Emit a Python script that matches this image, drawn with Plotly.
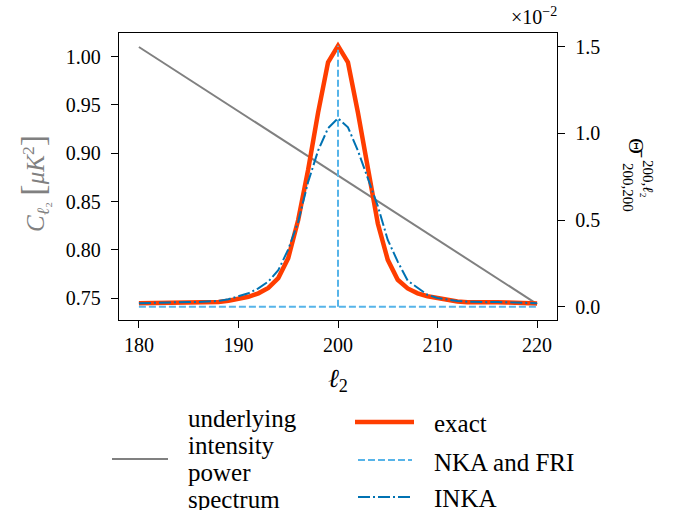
import plotly.graph_objects as go

# ---------------- data ----------------
ell = list(range(180, 221))
# exact Theta-bar values, in units of 1e-2
exact = [0.019, 0.020, 0.022, 0.024, 0.025, 0.025, 0.024, 0.024, 0.027, 0.034,
         0.044, 0.057, 0.077, 0.108, 0.165, 0.280, 0.500, 0.790, 1.120, 1.410,
         1.505, 1.410, 1.120, 0.785, 0.480, 0.270, 0.155, 0.105, 0.077, 0.060,
         0.048, 0.038, 0.030, 0.025, 0.023, 0.024, 0.025, 0.024, 0.022, 0.020,
         0.018]
inka = [0.020, 0.022, 0.024, 0.026, 0.027, 0.027, 0.027, 0.028, 0.033, 0.043,
        0.058, 0.077, 0.106, 0.145, 0.210, 0.330, 0.490, 0.720, 0.900, 1.030,
        1.087, 1.035, 0.900, 0.740, 0.580, 0.385, 0.260, 0.150, 0.108, 0.068,
        0.050, 0.040, 0.033, 0.028, 0.026, 0.026, 0.027, 0.026, 0.024, 0.022,
        0.020]
# NKA and FRI: a Kronecker delta at ell = 200 (baseline + spike segments)
nka_ell = [180, 220, None, 200, 200]
nka = [0.0, 0.0, None, 0.0, 1.505]
# underlying intensity power spectrum (straight line)
ps_ell = [180, 220]
ps_C = [1.010, 0.744]

x_ticks = [180, 190, 200, 210, 220]
y_ticks = [0.75, 0.80, 0.85, 0.90, 0.95, 1.00]
y_ticklabels = ["0.75", "0.80", "0.85", "0.90", "0.95", "1.00"]
y2_ticks = [0.0, 0.5, 1.0, 1.5]
y2_ticklabels = ["0.0", "0.5", "1.0", "1.5"]

legend_left = ["underlying", "intensity", "power", "spectrum"]
legend_right = ["exact", "NKA and FRI", "INKA"]

# ---------------- style ----------------
W, H = 680, 510
L, R, T, B = 119, 557, 33, 320
FONT = "Liberation Serif"
C_GRAY = "#808080"
C_EXACT = "#FF3D00"
C_NKA = "#56B4E9"
C_INKA = "#0072B2"
DASH = "7px,3px"
DASHDOT = "12px,3px,2px,3px"


def px(x):
    return (x - L) / (R - L)


def py(y):
    return (B - y) / (B - T)


fig = go.Figure()
fig.add_trace(go.Scatter(x=ps_ell, y=ps_C, mode="lines",
                         line=dict(color=C_GRAY, width=2), yaxis="y",
                         showlegend=False))
fig.add_trace(go.Scatter(x=ell, y=exact, mode="lines",
                         line=dict(color=C_EXACT, width=4.5), yaxis="y2",
                         showlegend=False))
fig.add_trace(go.Scatter(x=nka_ell, y=nka, mode="lines", connectgaps=False,
                         line=dict(color=C_NKA, width=2, dash=DASH),
                         yaxis="y2", showlegend=False))
fig.add_trace(go.Scatter(x=ell, y=inka, mode="lines",
                         line=dict(color=C_INKA, width=2, dash=DASHDOT),
                         yaxis="y2", showlegend=False))

axis_common = dict(showline=True, linecolor="black", linewidth=1.3,
                   ticks="outside", ticklen=7, tickwidth=1.3, tickcolor="black",
                   showgrid=False, zeroline=False,
                   tickfont=dict(family=FONT, size=20, color="black"))

fig.update_layout(
    width=W, height=H,
    font=dict(family=FONT, size=20, color="black"),
    margin=dict(l=L, r=W - R, t=T, b=H - B),
    plot_bgcolor="white", paper_bgcolor="white",
    xaxis=dict(range=[178, 222], tickvals=x_ticks, mirror=True, **axis_common),
    yaxis=dict(range=[0.7275, 1.0245], tickvals=y_ticks,
               ticktext=y_ticklabels, ticklabelstandoff=6, **axis_common),
    yaxis2=dict(range=[-0.077, 1.579], tickvals=y2_ticks,
                ticktext=y2_ticklabels, overlaying="y", side="right",
                ticklabelstandoff=6, **axis_common),
    showlegend=False,
)


def note(x, y, text, size, color="black", angle=0, xanchor="center"):
    return dict(x=px(x), y=py(y), xref="paper", yref="paper",
                xanchor=xanchor, yanchor="middle", text=text, textangle=angle,
                showarrow=False, font=dict(family=FONT, size=size, color=color))


ann = []
# axis titles
ann.append(note(338, 380, "<i>ℓ</i><sub>2</sub>", 26))
ann.append(note(33, 184,
                "<i>C</i><sub><i>ℓ</i>₂</sub> "
                "<span style='font-size:34px'>[</span><i>μK</i><sup>2</sup>"
                "<span style='font-size:34px'>]</span>",
                25, color=C_GRAY, angle=-90))
# right axis label (rotated clockwise)
ann.append(note(637, 148, "Θ̄", 22, angle=90))
ann.append(note(648, 179, "200,<i>ℓ</i>₂", 15, angle=90))
ann.append(note(628, 187, "200,200", 15, angle=90))
# offset text
ann.append(note(559, 16, "×10<sup>−2</sup>", 20, xanchor="right"))

# legend (manual)
left_rows = [418, 445, 472, 499]
for txt, yy in zip(legend_left, left_rows):
    ann.append(note(186, yy, txt, 25, xanchor="left"))
right_rows = [423, 462, 498]
for txt, yy in zip(legend_right, right_rows):
    ann.append(note(432, yy, txt, 25, xanchor="left"))

shapes = [
    dict(type="line", xref="paper", yref="paper", x0=px(112), x1=px(168),
         y0=py(459), y1=py(459), line=dict(color=C_GRAY, width=2)),
    dict(type="line", xref="paper", yref="paper", x0=px(355), x1=px(414),
         y0=py(422), y1=py(422), line=dict(color=C_EXACT, width=4.5)),
    dict(type="line", xref="paper", yref="paper", x0=px(358), x1=px(412),
         y0=py(460), y1=py(460), line=dict(color=C_NKA, width=2, dash=DASH)),
    dict(type="line", xref="paper", yref="paper", x0=px(358), x1=px(412),
         y0=py(497), y1=py(497),
         line=dict(color=C_INKA, width=2, dash=DASHDOT)),
]
fig.update_layout(annotations=ann, shapes=shapes)

fig.write_html("out.html")
